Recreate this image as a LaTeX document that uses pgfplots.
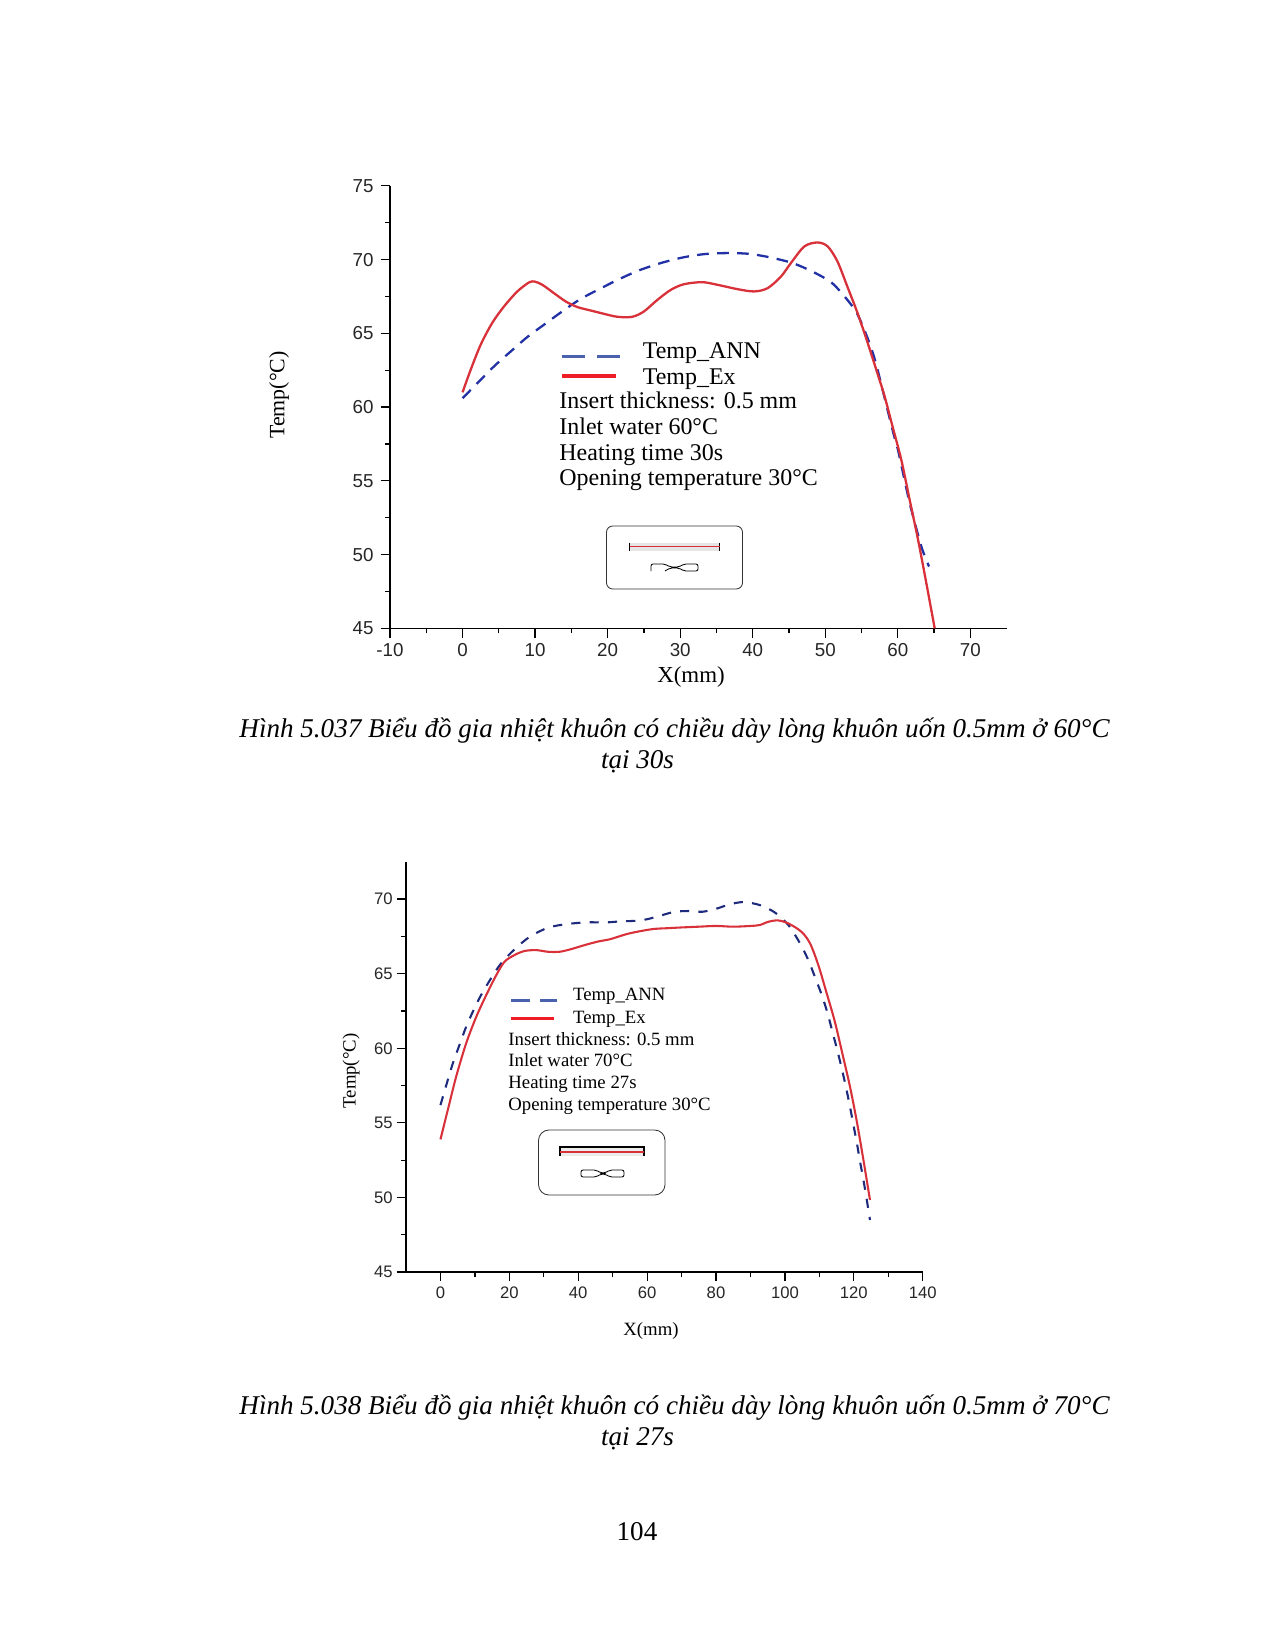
\documentclass[border=0pt]{standalone}
\usepackage{pgfplots}
\usepackage{fontspec}
\pgfplotsset{compat=1.18}
\setmainfont{Liberation Serif}
\newfontfamily\arial{Liberation Sans}

\definecolor{annblue}{HTML}{2232A6}
\definecolor{annnavy}{HTML}{1E2A7C}
\definecolor{annleg}{HTML}{4A62AE}
\definecolor{exred}{HTML}{D8313A}
\definecolor{exleg}{HTML}{EE1C25}

\pgfplotsset{
  originaxis/.style={
    scale only axis,
    axis lines=left,
    axis line style={-,line width=0.65pt},
    tick style={black,line width=0.6pt},
    tick align=outside,
    major tick length=4.4pt,
    minor tick length=2.4pt,
    minor tick num=1,
    /pgf/number format/assume math mode=true,
    legend cell align=left,
  },
}

% chart 1
\pgfplotstableread{
x y
0 61.0
1.12 62.53
2.49 64.22
4.07 65.69
5.71 66.82
7.55 67.84
9.16 68.45
9.94 68.51
11 68.29
12.61 67.72
14.22 67.16
15.84 66.78
17.65 66.55
19.51 66.32
21.37 66.12
23.38 66.12
24.99 66.48
26.86 67.27
28.71 67.95
30.52 68.33
33.03 68.47
35.14 68.29
37.86 68.0
40.17 67.84
42.04 68.06
43.89 68.85
45.25 69.76
47.11 70.89
48.92 71.16
50.33 70.89
51.68 69.87
53.04 68.17
54.45 66.37
55.85 64.34
57.03 62.53
58.18 60.72
59.33 58.57
60.48 56.42
61.63 53.71
62.79 51.0
63.93 48.06
65.08 45
}\exone
\pgfplotstableread{
x y
0 60.6
2.49 61.85
4.57 62.87
6.64 63.77
8.9 64.74
11.21 65.58
13.72 66.48
16.24 67.32
18.85 68
21.57 68.67
24.28 69.26
27.3 69.76
30.32 70.14
33.33 70.37
36.35 70.44
39.46 70.39
42.48 70.14
45.5 69.76
48.21 69.19
50.83 68.45
52.84 67.39
54.35 66.37
55.65 64.9
56.56 63.66
57.3 62.35
59.33 58.34
60.02 57.1
60.57 55.86
61.17 54.5
61.77 53.22
63.24 50.55
64.3 49.19
}\annone

% chart 2
\pgfplotstableread{
x y
0 53.89
2.13 55.86
4.55 58.09
7.46 60.33
10.4 62.11
13.3 63.57
16.2 64.9
18.6 65.8
21.5 66.25
24.4 66.52
27.8 66.58
31.2 66.47
34.6 66.47
38 66.65
41.9 66.92
46.2 67.18
49.1 67.3
54 67.65
58 67.85
62 68
66 68.05
70 68.1
75 68.15
80 68.2
85 68.15
90 68.2
92.7 68.26
95.2 68.48
98 68.57
101 68.37
104.8 67.81
107.3 67.03
109.7 65.58
112 63.79
114.5 61.78
116.9 59.43
118.9 57.42
120.8 55.19
122.8 52.51
124.7 49.83
}\extwo
\pgfplotstableread{
x y
0 56.19
2.13 57.87
3.6 58.99
5.5 60.21
7.46 61.44
9.4 62.45
11.8 63.57
14.7 64.69
17.6 65.69
21.5 66.63
25.9 67.47
31.2 68.08
36.5 68.32
42.3 68.44
48.2 68.44
52 68.5
57 68.55
60 68.65
64 68.9
68 69.15
72 69.2
76 69.15
80 69.35
84 69.65
88 69.8
92.7 69.6
97.1 69.1
101 68.26
104.4 67.03
106.8 65.91
108.7 64.79
110.7 63.57
112.4 62.34
113.8 61.1
115.2 59.88
116.5 58.65
117.7 57.42
118.9 56.08
119.8 54.97
120.8 53.77
121.8 52.43
122.8 51.17
123.7 49.94
124.7 48.49
}\anntwo

\begin{document}
\begin{tikzpicture}
\begin{axis}[
    originaxis,
    at={(187.2pt,-301.6pt)}, anchor=south west,
    width=296pt, height=212.4pt,
    xmin=-10, xmax=75, ymin=45, ymax=75,
    xtick={-10,0,...,70}, ytick={45,50,...,75},
    tick label style={font=\arial\fontsize{9}{10}\selectfont,text=black!85},
    xticklabel style={yshift=0.5pt},
    legend style={at={(0.275,0.654)},anchor=north west,draw=none,fill=none,
      inner sep=0pt,row sep=0.2pt,font=\fontsize{11.5}{12}\selectfont,
      nodes={inner sep=1.6pt}},
]
\addplot[annblue,line width=1.1pt,dash pattern=on 5.6pt off 4pt,smooth,
  legend image code/.code={\draw[annleg,line width=1.5pt,dash pattern=on 11pt off 6pt] (0,-2pt) -- (28pt,-2pt);}] table[x=x,y=y] {\annone};
\addlegendentry{\hspace*{8.6pt}Temp\_ANN}
\addplot[exred,line width=1.1pt,smooth,
  legend image code/.code={\draw[exleg,line width=1.6pt] (0,1pt) -- (26pt,1pt);}] table[x=x,y=y] {\exone};
\addlegendentry{\hspace*{8.6pt}Temp\_Ex}
\end{axis}

\begin{axis}[
    originaxis,
    at={(194.88pt,-610.56pt)}, anchor=south west,
    width=248pt, height=196.9pt,
    xmin=-10, xmax=140, ymin=45, ymax=72.5,
    xtick={0,20,...,140}, ytick={45,50,...,70},
    tick label style={font=\arial\fontsize{8}{9}\selectfont,text=black!85},
    xticklabel style={yshift=1pt},
    yticklabel style={xshift=1.5pt},
    legend style={at={(0.2,0.70)},anchor=north west,draw=none,fill=none,
      inner sep=0pt,row sep=0.5pt,font=\fontsize{9}{10}\selectfont,
      nodes={inner sep=1.5pt}},
]
\addplot[annnavy,line width=1pt,dash pattern=on 4.4pt off 4.4pt,smooth,
  legend image code/.code={\draw[annleg,line width=1.4pt,dash pattern=on 9pt off 5pt] (0,-2pt) -- (22pt,-2pt);}] table[x=x,y=y] {\anntwo};
\addlegendentry{\hspace*{5.5pt}Temp\_ANN}
\addplot[exred,line width=1pt,smooth,
  legend image code/.code={\draw[exleg,line width=1.4pt] (0,0) -- (20.5pt,0);}] table[x=x,y=y] {\extwo};
\addlegendentry{\hspace*{5.5pt}Temp\_Ex}
\end{axis}

\begin{scope}[x=0.48pt,y=-0.48pt]
\path[use as bounding box] (0,0) rectangle (1275,1650);

% axis titles
\node[rotate=90,font=\fontsize{10.5}{12}\selectfont] at (279,395) {Temp(°C)};
\node[font=\fontsize{11}{12}\selectfont] at (691,677) {X(mm)};
\node[rotate=90,font=\fontsize{9}{10}\selectfont] at (351,1071) {Temp(°C)};
\node[font=\fontsize{9}{10}\selectfont] at (651,1331) {X(mm)};

% notes
\foreach \yy/\tt in {409/Insert thickness: 0.5 mm,434.5/Inlet water 60°C,460.5/Heating time 30s,486/Opening temperature 30°C}
  \node[anchor=base west,inner sep=0pt,font=\fontsize{11.5}{12}\selectfont] at (559,\yy) {\tt};
\foreach \yy/\tt in {1045/Insert thickness: 0.5 mm,1066.5/Inlet water 70°C,1088/Heating time 27s,1110/Opening temperature 30°C}
  \node[anchor=base west,inner sep=0pt,font=\fontsize{9}{10}\selectfont] at (508,\yy) {\tt};

% mould sketches
\draw[black!80,line width=0.4pt,rounded corners=3pt] (606.5,526) rectangle (742.5,589);
\fill[black!10] (629.5,542.5) rectangle (719.5,551);
\draw[black,line width=0.4pt] (629.5,542.5) -- (629.5,551) (719.5,542.5) -- (719.5,551);
\draw[exred,line width=0.5pt] (629.5,546.5) -- (719.5,546.5);
\draw[black,line width=0.4pt,rounded corners=1pt] (651,571) -- (651,564) -- (665,564) -- (670,567) -- (679,567) -- (684,564) -- (698,564) -- (698,571) -- (684,571) -- (679,568) -- (670,568) -- (665,571);

\draw[black!80,line width=0.4pt,rounded corners=5pt] (538.5,1130) rectangle (665,1195);
\fill[black!8] (560,1147) rectangle (644,1156);
\draw[black,line width=0.6pt] (560,1156) -- (560,1147) -- (644,1147) -- (644,1156);
\draw[exred,line width=0.7pt] (560,1152) -- (644,1152);
\draw[black,line width=0.4pt,rounded corners=1pt] (581,1177) -- (581,1170) -- (596,1170) -- (601,1173) -- (605,1173) -- (610,1170) -- (624,1170) -- (624,1177) -- (610,1177) -- (605,1174) -- (601,1174) -- (596,1177) -- cycle;

% captions
\node[font=\itshape\fontsize{13}{14}\selectfont] at (674.5,731) {Hình 5.037 Biểu đồ gia nhiệt khuôn có chiều dày lòng khuôn uốn 0.5mm ở 60°C};
\node[font=\itshape\fontsize{13}{14}\selectfont] at (637.5,762) {tại 30s};
\node[font=\itshape\fontsize{13}{14}\selectfont] at (674.5,1408) {Hình 5.038 Biểu đồ gia nhiệt khuôn có chiều dày lòng khuôn uốn 0.5mm ở 70°C};
\node[font=\itshape\fontsize{13}{14}\selectfont] at (637.5,1439) {tại 27s};
\node[font=\fontsize{13}{14}\selectfont] at (637,1532) {104};
\end{scope}
\end{tikzpicture}
\end{document}
